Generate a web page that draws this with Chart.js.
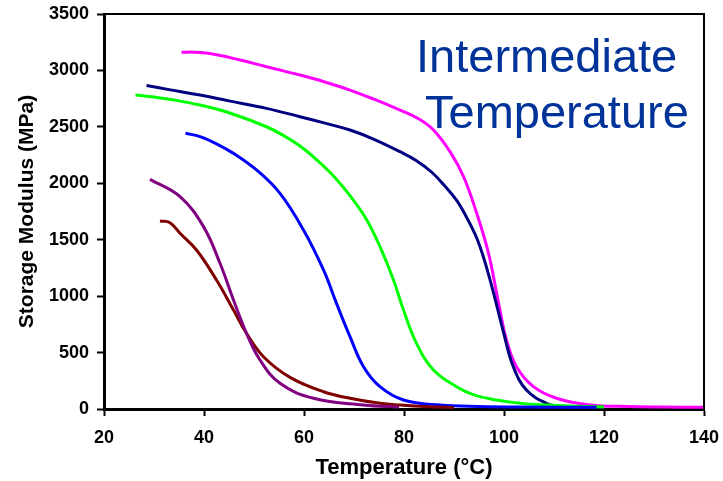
<!DOCTYPE html>
<html>
<head>
<meta charset="utf-8">
<script src="https://cdn.jsdelivr.net/npm/chart.js@4.4.1/dist/chart.umd.min.js"></script>
<style>
  html, body { margin: 0; padding: 0; background: #fff; }
  #wrap { width: 723px; height: 481px; }
</style>
</head>
<body>
<div id="wrap"><canvas id="c" width="723" height="481"></canvas></div>
<script>
// ---- data ----
const xTicks = [20, 40, 60, 80, 100, 120, 140];
const yTicks = [0, 500, 1000, 1500, 2000, 2500, 3000, 3500];

const purpleT = [29.2, 35.2, 39.9, 43.2, 45.9, 48.5, 51.2, 55.2, 61.9, 71.9, 79];
const purpleV = [2035, 1881, 1616, 1291, 966, 671, 434, 228, 95, 35, 15];

const maroonT = [31.2, 33.2, 35.2, 38.5, 42.5, 45.9, 48.5, 51.9, 57.2, 63.9, 69.2, 75.2, 79.2, 85, 90];
const maroonV = [1666, 1651, 1557, 1409, 1143, 877, 671, 463, 280, 153, 95, 50, 35, 20, 12];

const blueT = [36.3, 39.2, 42.5, 45.9, 50.5, 55.2, 59.9, 63.9, 66.5, 69.2, 71.9, 75.2, 79.9, 87.2, 95, 105, 118.5];
const blueV = [2443, 2413, 2350, 2265, 2118, 1911, 1586, 1232, 936, 641, 375, 198, 80, 35, 22, 17, 15];

const greenT = [26.3, 30, 34, 39.2, 45, 52.5, 56, 59.2, 62.5, 65.9, 69.2, 72.5, 75.2, 77.9, 79.9, 82.5, 85.9, 90.5, 94, 98.5, 103, 108.5, 114, 120];
const greenV = [2782, 2765, 2738, 2693, 2625, 2501, 2420, 2330, 2210, 2065, 1890, 1680, 1438, 1143, 877, 582, 346, 198, 125, 80, 52, 35, 25, 18];

const navyT = [28.5, 33, 39.2, 45, 52.5, 59.2, 64, 69.2, 74, 79.2, 82.5, 85.5, 88, 90.5, 92.5, 94.5, 96, 97.9, 99.9, 101.9, 104.5, 108.5, 112, 120];
const navyV = [2867, 2830, 2782, 2730, 2664, 2590, 2535, 2472, 2390, 2280, 2200, 2100, 1985, 1850, 1700, 1520, 1330, 1030, 680, 370, 168, 50, 20, 15];

const magentaT = [35.5, 38, 41.2, 47, 52.5, 59.2, 64, 69.2, 74, 79.2, 83, 85.9, 89.2, 91.9, 94.5, 96.9, 98.8, 100.5, 102.5, 105.9, 110.5, 117.2, 125, 132, 140];
const magentaV = [3160, 3162, 3150, 3095, 3033, 2959, 2900, 2826, 2745, 2649, 2570, 2472, 2280, 2060, 1740, 1380, 966, 611, 375, 198, 95, 35, 22, 18, 15];

const annotationLines = ['Intermediate', 'Temperature'];
const xTitle = 'Temperature (°C)';
const yTitle = 'Storage Modulus (MPa)';

// ---- build datasets ----
function pts(T, V) { return T.map((t, i) => ({ x: t, y: V[i] })); }
function ds(label, T, V, color) {
  return {
    label, data: pts(T, V), borderColor: color, backgroundColor: color,
    borderWidth: 3, pointRadius: 0, fill: false, tension: 0.4
  };
}

const FONT = "'Liberation Sans', Arial, sans-serif";

const framePlugin = {
  id: 'frame',
  afterDatasetsDraw(chart) {
    const { ctx, chartArea: a } = chart;
    ctx.save();
    ctx.strokeStyle = '#000';
    ctx.lineWidth = 2;
    ctx.beginPath();
    ctx.moveTo(a.left, a.top);
    ctx.lineTo(a.right, a.top);
    ctx.lineTo(a.right, a.bottom);
    ctx.stroke();
    ctx.restore();
  }
};

const textPlugin = {
  id: 'annot',
  afterDraw(chart) {
    const { ctx } = chart;
    ctx.save();
    ctx.fillStyle = '#003399';
    ctx.font = "47px " + FONT;
    ctx.textAlign = 'left';
    ctx.textBaseline = 'alphabetic';
    ctx.fillText(annotationLines[0], 416, 72);
    ctx.fillText(annotationLines[1], 425, 128);
    ctx.restore();
  }
};

new Chart(document.getElementById('c'), {
  type: 'line',
  data: {
    datasets: [
      ds('purple', purpleT, purpleV, '#800080'),
      ds('maroon', maroonT, maroonV, '#800000'),
      ds('blue', blueT, blueV, '#0000FF'),
      ds('green', greenT, greenV, '#00FF00'),
      ds('navy', navyT, navyV, '#000080'),
      ds('magenta', magentaT, magentaV, '#FF00FF')
    ]
  },
  options: {
    responsive: false,
    animation: false,
    devicePixelRatio: 1,
    layout: { padding: { top: 14, right: 19, left: 0, bottom: 0 } },
    plugins: { legend: { display: false }, tooltip: { enabled: false } },
    scales: {
      x: {
        type: 'linear',
        min: xTicks[0], max: xTicks[xTicks.length - 1],
        afterFit(s) { s.height = 72; s.paddingLeft = 0; s.paddingRight = 0; },
        afterBuildTicks(s) { s.ticks = xTicks.map(v => ({ value: v })); },
        ticks: { color: '#000', padding: 11, callback: v => String(v),
                 font: { family: FONT, size: 18, weight: 'bold' } },
        grid: { drawOnChartArea: false, drawTicks: true, tickLength: 7, tickColor: '#000', tickWidth: 2 },
        border: { display: true, color: '#000', width: 3 },
        title: { display: true, text: xTitle, color: '#000', padding: { top: 0, bottom: 0 },
                 font: { family: FONT, size: 22, weight: 'bold' } }
      },
      y: {
        type: 'linear',
        min: yTicks[0], max: yTicks[yTicks.length - 1],
        afterFit(s) { s.width = 104; s.paddingTop = 0; s.paddingBottom = 0; },
        afterBuildTicks(s) { s.ticks = yTicks.map(v => ({ value: v })); },
        ticks: { color: '#000', padding: 8, callback: v => String(v),
                 font: { family: FONT, size: 18, weight: 'bold' } },
        grid: { drawOnChartArea: false, drawTicks: true, tickLength: 7, tickColor: '#000', tickWidth: 2 },
        border: { display: true, color: '#000', width: 3 },
        title: { display: true, text: yTitle, color: '#000', padding: { top: 15, bottom: 0 },
                 font: { family: FONT, size: 21, weight: 'bold' } }
      }
    }
  },
  plugins: [framePlugin, textPlugin]
});
</script>
</body>
</html>
